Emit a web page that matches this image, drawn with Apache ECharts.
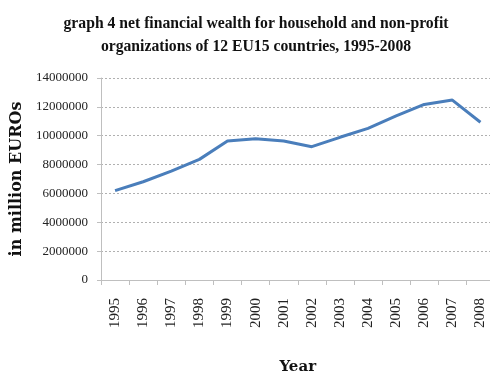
<!DOCTYPE html>
<html>
<head>
<meta charset="utf-8">
<script src="https://cdn.jsdelivr.net/npm/echarts@6/dist/echarts.min.js"></script>
<style>
  html, body { margin: 0; padding: 0; background: #fff; }
  #chart { width: 490px; height: 374px; }
</style>
</head>
<body>
<div id="chart"></div>
<script>
// Net financial wealth of households and non-profit organisations, EU15 (12 countries)
const years = ['1995', '1996', '1997', '1998', '1999', '2000', '2001',
               '2002', '2003', '2004', '2005', '2006', '2007', '2008'];
const wealth = [6190000, 6810000, 7550000, 8360000, 9630000, 9790000, 9630000,
                9240000, 9890000, 10510000, 11370000, 12170000, 12470000, 10930000];
const yTicks = { min: 0, max: 14000000, step: 2000000 };

const serif = '"Liberation Serif", "DejaVu Serif", serif';
const wideSerif = '"DejaVu Serif", "Liberation Serif", serif';
const chart = echarts.init(document.getElementById('chart'));
chart.setOption({
  animation: false,
  backgroundColor: '#ffffff',
  title: {
    text: 'graph 4 net financial wealth for household and non-profit\norganizations of 12 EU15 countries, 1995-2008',
    left: 251,
    textAlign: 'center',
    top: 7,
    textStyle: { fontFamily: serif, fontSize: 15.7, fontWeight: 'bold', color: '#111', lineHeight: 23 }
  },
  grid: { left: 101, top: 78, width: 393.5, height: 202, containLabel: false, outerBoundsMode: 'none' },
  xAxis: {
    type: 'category',
    data: years,
    boundaryGap: true,
    name: 'Year',
    nameLocation: 'middle',
    nameGap: 80,
    nameTextStyle: { fontFamily: wideSerif, fontSize: 15, fontWeight: 'bold', color: '#111' },
    axisLine: { lineStyle: { color: '#bfbfbf', width: 1 } },
    axisTick: { show: true, length: 5, lineStyle: { color: '#bfbfbf' } },
    axisLabel: { rotate: 90, margin: 18, fontFamily: serif, fontSize: 15, color: '#222' }
  },
  yAxis: {
    type: 'value',
    min: yTicks.min,
    max: yTicks.max,
    interval: yTicks.step,
    name: 'in million EUROs',
    nameLocation: 'middle',
    nameGap: 67,
    nameRotate: 90,
    nameTextStyle: { fontFamily: wideSerif, fontSize: 16, fontWeight: 'bold', color: '#111' },
    axisLine: { show: true, lineStyle: { color: '#bfbfbf', width: 1 } },
    axisTick: { show: true, length: 4, lineStyle: { color: '#bfbfbf' } },
    axisLabel: { margin: 13, fontFamily: serif, fontSize: 13, color: '#222',
                 formatter: v => String(v) },
    splitLine: { show: true, lineStyle: { color: '#b0b0b0', type: [2, 2], width: 1 } }
  },
  series: [{
    type: 'line',
    data: wealth,
    symbol: 'none',
    lineStyle: { color: '#4a7ebb', width: 3 },
    itemStyle: { color: '#4a7ebb' }
  }]
});
</script>
</body>
</html>
